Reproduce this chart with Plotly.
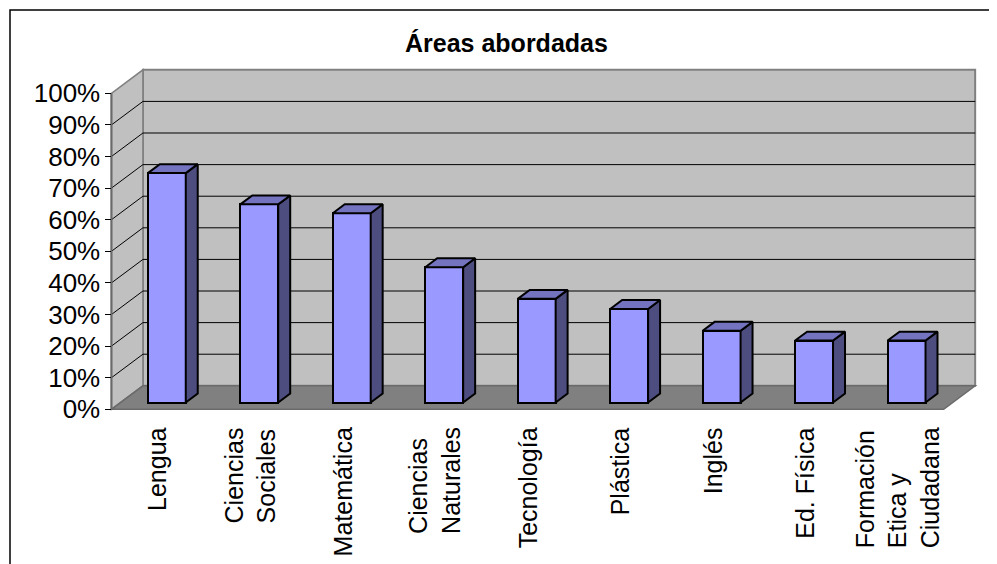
import plotly.graph_objects as go

# ---- data ----
categories = ["Lengua", "Ciencias<br>Sociales", "Matemática", "Ciencias<br>Naturales",
              "Tecnología", "Plástica", "Inglés", "Ed. Física",
              "Formación<br>Etica y<br>Ciudadana"]
values = [72.6, 62.7, 59.9, 42.8, 32.8, 29.6, 22.7, 19.6, 19.6]
tick_vals = [0, 10, 20, 30, 40, 50, 60, 70, 80, 90, 100]
tick_text = [f"{v}%" for v in tick_vals]
title_text = "Áreas abordadas"

# ---- layout geometry ----
OFF = 8                       # page body margin offset
W, H = 997 - OFF, 564 - OFF
PX_PER_X, PX_PER_Y = 92.47, 3.16
X_ORIGIN_PX, Y_ORIGIN_PX = 166.8, 402.5   # screen position of category 0 / value 0 (bar plane)

XR = [(OFF - X_ORIGIN_PX) / PX_PER_X, (W + OFF - X_ORIGIN_PX) / PX_PER_X]
YR = [(Y_ORIGIN_PX - (H + OFF)) / PX_PER_Y, (Y_ORIGIN_PX - OFF) / PX_PER_Y]

# 3D projection parameters (axis units per full depth)
DX, DY = 0.3407, 7.44
D_FRONT, D_BACK, D_BAR = -0.29, 0.71, 0.38
BAR_W = 0.41
N = len(categories)
X0, X1 = -0.5, N - 0.5

FONT = "Liberation Sans, Arial, sans-serif"


def P(x, v, d):
    return x + d * DX, v + d * DY


def path(pts, close=True):
    s = "M " + " L ".join(f"{x},{y}" for x, y in pts)
    return s + " Z" if close else s


shapes = []
WALL = "#c0c0c0"
FLOOR = "#808080"
EDGE = "#808080"

shapes.append(dict(type="path", xref="x", yref="y", layer="below",
                   path=path([P(X0, 0, D_BACK), P(X1, 0, D_BACK), P(X1, 100, D_BACK), P(X0, 100, D_BACK)]),
                   fillcolor=WALL, line=dict(color=EDGE, width=2)))
shapes.append(dict(type="path", xref="x", yref="y", layer="below",
                   path=path([P(X0, 0, D_FRONT), P(X0, 0, D_BACK), P(X0, 100, D_BACK), P(X0, 100, D_FRONT)]),
                   fillcolor=WALL, line=dict(color=EDGE, width=1.5)))
shapes.append(dict(type="path", xref="x", yref="y", layer="below",
                   path=path([P(X0, 0, D_FRONT), P(X1, 0, D_FRONT), P(X1, 0, D_BACK), P(X0, 0, D_BACK)]),
                   fillcolor=FLOOR, line=dict(color="#6a6a6a", width=1.5)))
for g in tick_vals[1:-1]:
    xa, ya = P(X0, g, D_BACK)
    xb, yb = P(X1, g, D_BACK)
    shapes.append(dict(type="line", xref="x", yref="y", layer="below",
                       x0=xa, y0=ya, x1=xb, y1=yb, line=dict(color="#000000", width=1)))
    xc, yc = P(X0, g, D_FRONT)
    shapes.append(dict(type="line", xref="x", yref="y", layer="below",
                       x0=xc, y0=yc, x1=xa, y1=ya, line=dict(color="#000000", width=1)))
xa, ya = P(X0, 0, D_FRONT)
xb, yb = P(X0, 100, D_FRONT)
shapes.append(dict(type="line", xref="x", yref="y", layer="below",
                   x0=xa, y0=ya, x1=xb, y1=yb, line=dict(color="#6a6a6a", width=2)))
# outer chart border (left and top edges only; the rest lies outside the view)
bx, by = (10 - OFF) / W, 1 - (10 - OFF) / H
shapes.append(dict(type="path", xref="paper", yref="paper",
                   path=path([(bx, -0.1), (bx, by), (1.2, by)], close=False),
                   line=dict(color="#000000", width=1.5)))

fig = go.Figure()

xs = list(range(N))
fig.add_trace(go.Bar(x=xs, y=values, width=BAR_W, marker=dict(color="#9999ff",
                     line=dict(color="#000000", width=2)), showlegend=False, hoverinfo="skip"))

for i, v in enumerate(values):
    xl, xr = i - BAR_W / 2, i + BAR_W / 2
    side = [(xr, 0), (xr, v), P(xr, v, D_BAR), P(xr, 0, D_BAR), (xr, 0)]
    top = [(xl, v), (xr, v), P(xr, v, D_BAR), P(xl, v, D_BAR), (xl, v)]
    for pts, col in ((side, "#4d4d80"), (top, "#7373bf")):
        fig.add_trace(go.Scatter(x=[p[0] for p in pts], y=[p[1] for p in pts],
                                 mode="lines", fill="toself", fillcolor=col,
                                 line=dict(color="#000000", width=2),
                                 showlegend=False, hoverinfo="skip"))

annotations = []
for i, c in enumerate(categories):
    lx, ly = P(i, 0, D_FRONT)
    annotations.append(dict(x=lx, y=ly, xref="x", yref="y", text=c, showarrow=False,
                            textangle=-90, xanchor="center", yanchor="top", align="left",
                            yshift=-16, font=dict(family=FONT, size=25, color="#000000")))
annotations.append(dict(x=(506 - OFF) / W, y=1 - (43 - OFF) / H, xref="paper", yref="paper",
                        text=f"<b>{title_text}</b>", showarrow=False, xanchor="center",
                        yanchor="middle", font=dict(family=FONT, size=25, color="#000000")))

shift = -D_FRONT * DY
front_x_px = X_ORIGIN_PX + P(X0, 0, D_FRONT)[0] * PX_PER_X
fig.update_layout(
    width=W, height=H,
    margin=dict(l=0, r=0, t=0, b=0),
    paper_bgcolor="#ffffff", plot_bgcolor="rgba(0,0,0,0)",
    shapes=shapes, annotations=annotations,
    bargap=0,
    xaxis=dict(range=XR, visible=False, fixedrange=True),
    yaxis=dict(range=YR, visible=False, fixedrange=True),
    yaxis2=dict(range=[YR[0] + shift, YR[1] + shift], overlaying="y", anchor="free",
                position=(front_x_px - OFF) / W,
                side="left", showgrid=False, zeroline=False, showline=False,
                tickvals=tick_vals, ticktext=tick_text, ticks="outside", ticklen=6,
                tickcolor="#000000", tickwidth=1, automargin=False,
                tickfont=dict(family=FONT, size=26, color="#000000"), fixedrange=True),
    showlegend=False,
)
fig.add_trace(go.Scatter(x=[0], y=[0], yaxis="y2", mode="markers",
                         marker=dict(opacity=0), showlegend=False, hoverinfo="skip"))

fig.write_html("out.html")
